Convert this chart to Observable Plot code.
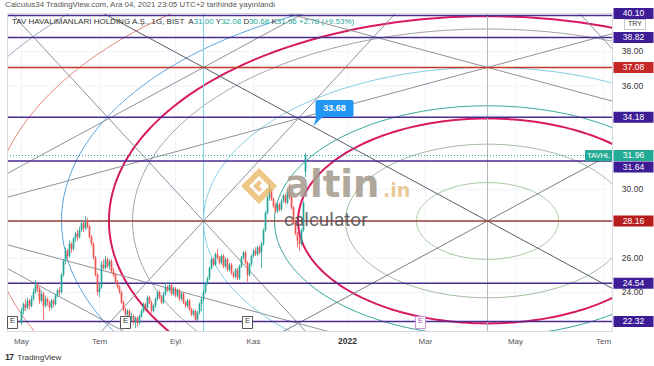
<!DOCTYPE html>
<html><head><meta charset="utf-8">
<script src="https://cdn.jsdelivr.net/npm/d3@7"></script>
<script src="https://cdn.jsdelivr.net/npm/@observablehq/plot@0.6"></script>
<style>
body{margin:0;background:#fff;}
#wrap{position:relative;width:654px;height:366px;overflow:hidden;font-family:"Liberation Sans",Arial,sans-serif;}
#wrap svg{position:absolute;left:0;top:0;}
.ov{position:absolute;white-space:nowrap;pointer-events:none;}
</style></head><body><div id="wrap"></div>
<script>
// ---------- DATA ----------
// daily candles [open, high, low, close], TAVHL, 3 May 2021 .. 3 Dec 2021
const candles = [
[22.2,23.1,22.1,22.9],[22.9,23.4,22.7,23.3],[23.3,23.6,22.9,23.1],[23.1,23.7,23.0,23.5],[23.5,23.6,23.0,23.2],
[23.2,23.8,23.1,23.6],[23.6,24.2,23.5,24.0],[24.0,24.7,23.9,24.4],[24.4,24.6,24.0,24.2],[24.2,24.3,23.3,23.5],
[23.5,24.1,23.4,23.9],[23.9,24.0,22.4,23.2],[23.2,23.8,23.1,23.6],[23.6,23.7,23.2,23.4],[23.4,23.5,22.9,23.1],
[23.1,23.6,23.0,23.5],[23.5,23.6,23.1,23.3],[23.3,23.9,23.2,23.8],[23.8,24.2,23.7,24.1],[24.1,24.3,23.8,24.0],
[24.0,25.1,23.9,25.0],[25.0,25.9,24.9,25.8],[25.8,26.6,25.6,26.4],[26.4,26.5,25.9,26.1],[26.1,27.0,26.0,26.8],
[26.8,26.9,26.3,26.5],[26.5,27.2,26.4,27.1],[27.1,27.5,26.9,27.4],[27.4,27.6,27.0,27.2],[27.2,27.8,27.1,27.6],
[27.6,28.2,27.5,28.0],[28.0,28.1,27.5,27.7],[27.7,28.4,27.6,28.1],[28.1,28.3,27.7,27.8],[27.8,27.9,27.1,27.2],
[27.2,27.3,26.7,26.8],[26.8,26.9,25.9,26.0],[26.0,26.1,24.9,25.0],[25.0,25.1,23.8,24.0],[24.0,24.5,23.7,24.3],
[24.3,25.8,24.2,25.6],[25.6,25.9,25.3,25.4],[25.4,26.1,25.3,25.9],[25.9,26.0,25.4,25.5],[25.5,25.9,25.3,25.8],
[25.8,25.9,25.1,25.2],[25.2,25.4,24.9,25.0],[25.0,25.1,24.5,24.6],[24.6,24.7,24.2,24.3],[24.3,24.4,23.9,24.0],
[24.0,24.1,23.3,23.4],[23.4,23.5,22.9,23.0],[23.0,23.1,22.6,22.7],[22.7,23.0,22.5,22.9],[22.9,23.0,22.4,22.5],
[22.5,22.8,22.3,22.6],[22.6,22.7,22.1,22.3],[22.3,22.6,21.9,22.5],[22.5,22.6,22.0,22.2],[22.2,22.7,22.1,22.6],
[22.6,23.0,22.5,22.9],[22.9,23.4,22.8,23.3],[23.3,23.4,22.9,23.1],[23.1,23.8,23.0,23.7],[23.7,23.8,23.3,23.4],
[23.4,23.5,22.8,22.9],[22.9,23.3,22.8,23.2],[23.2,23.7,23.1,23.6],[23.6,24.1,23.5,24.0],[24.0,24.1,23.6,23.7],
[23.7,23.8,23.3,23.4],[23.4,24.0,23.3,23.9],[23.9,24.5,23.8,24.3],[24.3,24.4,24.0,24.1],[24.1,24.6,24.0,24.4],
[24.4,24.5,23.8,23.9],[23.9,24.3,23.8,24.2],[24.2,24.3,23.7,23.8],[23.8,24.2,23.7,24.1],[24.1,24.2,23.5,23.6],
[23.6,24.0,23.5,23.9],[23.9,24.0,23.3,23.4],[23.4,23.5,23.1,23.2],[23.2,23.6,23.1,23.5],[23.5,23.6,22.9,23.0],
[23.0,23.1,22.6,22.7],[22.7,23.0,22.6,22.9],[22.9,23.0,22.3,22.4],[22.4,22.9,22.3,22.8],[22.8,23.4,22.7,23.3],
[23.3,23.7,22.9,23.6],[23.6,24.1,23.5,24.0],[24.0,24.6,23.9,24.5],[24.5,24.9,24.4,24.8],[24.8,25.5,24.7,25.4],
[25.4,26.0,25.3,25.9],[25.9,26.0,25.5,25.6],[25.6,26.3,25.5,26.2],[26.2,26.5,25.9,26.0],[26.0,26.1,25.6,25.7],
[25.7,26.2,25.6,26.1],[26.1,26.2,25.4,25.5],[25.5,26.0,25.4,25.9],[25.9,26.0,25.2,25.3],[25.3,25.7,25.2,25.6],
[25.6,25.7,25.0,25.1],[25.1,25.2,24.8,24.9],[24.9,25.4,24.8,25.3],[25.3,25.4,24.7,24.8],[24.8,25.6,24.7,25.5],
[25.5,26.1,25.4,26.0],[26.0,26.4,25.9,26.3],[26.3,26.4,25.6,25.7],[25.7,25.8,24.6,25.0],[25.0,25.7,24.9,25.6],
[25.6,26.2,25.5,26.1],[26.1,26.5,26.0,26.4],[26.4,26.6,26.1,26.2],[26.2,26.7,26.1,26.6],[26.6,26.7,26.2,26.3],
[26.3,26.9,25.4,26.8],[26.8,27.7,26.7,27.6],[27.6,28.7,27.5,28.6],[28.6,29.6,28.5,29.5],[29.5,30.3,29.3,29.9],
[29.9,30.0,29.3,29.4],[29.4,29.5,28.9,29.0],[29.0,29.2,28.6,28.7],[28.7,29.2,28.6,29.1],[29.1,29.2,28.7,28.8],
[28.8,29.4,28.7,29.3],[29.3,29.7,29.2,29.6],[29.6,29.7,29.1,29.2],[29.2,29.9,29.1,29.8],[29.8,30.3,29.4,29.5],
[29.5,29.6,28.8,28.9],[28.9,29.0,27.9,28.0],[28.0,28.1,27.3,27.4],[27.4,27.5,26.6,27.0],[27.0,27.2,26.4,26.8],
[26.8,27.7,26.7,27.6],[27.6,29.3,27.5,29.18],[31.00,32.08,30.68,31.96]
];
const levelPrices = [40.10, 38.82, 37.08, 34.18, 31.64, 28.16, 24.54, 22.32];
const lastPrice = 31.96;
const notePrice = 33.68, noteBar = 146;
const yTicks = [24, 26, 30, 36, 38];
const xTickBars = [0, 39, 77, 116, 163, 202, 247, 291];
const xTickLabels = ["May", "Tem", "Eyl", "Kas", "2022", "Mar", "May", "Tem"];
const earningsBars = [-4.5, 52, 113, 199.5];
// Fib circle drawing: center (bar, price) and unit radii
const fibCenterBar = 233, fibCenterPrice = 28.16;
const fibUnitBars = 142, fibUnitPrice = 8.92;
const fibLevels = [0.25, 0.5, 0.667, 0.75, 1, 1.25, 1.333, 1.5, 1.75, 2];
// trend line anchors [bar1, price1, bar2, price2]
const trendLines = [
  [91, 37.08, 233, 28.16],
  [91, 19.24, 233, 28.16],
  [-51, 28.16, 91, 37.08],
  [-51, 28.16, 91, 19.24],
  [233, 37.08, 517, 28.16],
  [-51, 28.16, 233, 37.08],
  [-51, 28.16, 233, 19.24],
  [233, 19.24, 517, 28.16],
  [91, 28.16, 162, 19.24],
  [91, 28.16, 162, 37.08],
  [375, 28.16, 304, 37.08]
];
const verticalBars = [91, 233];

// ---------- STYLES ----------
const UP = "#26a69a", DOWN = "#ef5350";
const levelLineColors = ["#4b2a91","#4b2a91","#c0392b","#4b2a91","#4b2a91","#9a3b3b","#4b2a91","#4b2a91"];
const levelBoxColors  = ["#3e1c96","#3e1c96","#c62828","#3e1c96","#3e1c96","#b71c1c","#3e1c96","#3e1c96"];
const levelLabelShift = [-2, 0, 0, 0, 6, 0, 0, 0]; // px, label collision avoidance
const fibColors = ["#a9c9a0","#a3bb9e","#d81b60","#3aa89b","#86cde3","#a3a5ad","#d81b60","#5ea6dc","#e8877c","#9aa3b5"];
const fibWidths = [1,1,2,1,1,1,2,1,1,1];
const trendColors = ["#5a5d66","#7b7e87","#8f929a","#8f929a","#8f929a","#8f929a","#8f929a","#8f929a","#8f929a","#8f929a","#8f929a"];

// ---------- BUILD ----------
const ellipses = fibLevels.map(k => d3.range(0, 361, 2).map(a => ({
  i: fibCenterBar + k * fibUnitBars * Math.cos(a * Math.PI / 180),
  p: fibCenterPrice + k * fibUnitPrice * Math.sin(a * Math.PI / 180)
})));
const extLines = trendLines.map(([a, b, c, d]) => ({
  x1: a + (c - a) * -4, y1: b + (d - b) * -4,
  x2: a + (c - a) * 5,  y2: b + (d - b) * 5
}));
const boxSym = (w, h, oy = 0) => ({draw(ctx) { ctx.rect(-w / 2, -h / 2 + oy, w, h); }});
const noteSym = {draw(ctx) {
  const l = 2, r = 40, t = -26, b = -9, rr = 2;
  ctx.moveTo(l + rr, t); ctx.lineTo(r - rr, t); ctx.quadraticCurveTo(r, t, r, t + rr);
  ctx.lineTo(r, b - rr); ctx.quadraticCurveTo(r, b, r - rr, b);
  ctx.lineTo(9, b); ctx.lineTo(0, 0); ctx.lineTo(3, b);
  ctx.lineTo(l + rr, b); ctx.quadraticCurveTo(l, b, l, b - rr);
  ctx.lineTo(l, t + rr); ctx.quadraticCurveTo(l, t, l + rr, t); ctx.closePath();
}};

const levelIdx = levelPrices.map((d, i) => i);
const marks = [
  Plot.ruleY(yTicks, {y: d => d, stroke: "#f0f3fa"}),
  Plot.ruleX(xTickBars, {x: d => d, stroke: "#f0f3fa"}),
  ...ellipses.map((pts, k) => Plot.line(pts, {x: "i", y: "p", stroke: fibColors[k], strokeWidth: fibWidths[k], clip: true})),
  Plot.link(extLines, {x1: "x1", y1: "y1", x2: "x2", y2: "y2", stroke: (d, i) => trendColors[i], strokeWidth: 1, clip: true}),
  Plot.ruleX(verticalBars, {x: d => d, stroke: (d, i) => i === 0 ? "#7fd0e4" : "#b3b6bd", strokeWidth: 1}),
  Plot.ruleY(levelPrices, {y: d => d, stroke: (d, i) => levelLineColors[i], strokeWidth: 1.5}),
  Plot.ruleY([lastPrice], {y: d => d, stroke: UP, strokeDasharray: "1,2", strokeWidth: 1}),
  Plot.ruleX(candles, {x: (d, i) => i, y1: d => d[2], y2: d => d[1], stroke: d => d[3] >= d[0] ? UP : DOWN, strokeWidth: 0.8}),
  Plot.ruleX(candles, {x: (d, i) => i, y1: d => d[0], y2: d => d[3], stroke: d => d[3] >= d[0] ? UP : DOWN, strokeWidth: 1.7}),
  Plot.frame({stroke: "#d6d9e0"}),
  Plot.text(yTicks, {y: d => d, text: d => d.toFixed(2), frameAnchor: "right", textAnchor: "middle", dx: 20, fontSize: 8.5, fill: "#333"}),
  ...levelIdx.map(i => Plot.dot([levelPrices[i]], {y: d => d, frameAnchor: "right", dx: 21, dy: levelLabelShift[i], r: 5, symbol: boxSym(40, 11), fill: levelBoxColors[i], stroke: null})),
  ...levelIdx.map(i => Plot.text([levelPrices[i]], {y: d => d, text: d => d.toFixed(2), frameAnchor: "right", textAnchor: "middle", dx: 21, dy: levelLabelShift[i], fontSize: 8.5, fill: "white"})),
  Plot.dot([lastPrice], {y: d => d, frameAnchor: "right", dx: 21, r: 5, symbol: boxSym(40, 11), fill: "#22ab94", stroke: null}),
  Plot.text([lastPrice], {y: d => d, text: d => d.toFixed(2), frameAnchor: "right", textAnchor: "middle", dx: 21, fontSize: 8.5, fill: "white"}),
  Plot.dot([lastPrice], {y: d => d, frameAnchor: "right", dx: -14, r: 5, symbol: boxSym(27, 11), fill: "#22ab94", stroke: null}),
  Plot.text([lastPrice], {y: d => d, text: () => "TAVHL", frameAnchor: "right", textAnchor: "middle", dx: -14, fontSize: 7.5, fill: "white"}),
  Plot.dot([notePrice], {x: () => noteBar, y: d => d, r: 5, symbol: noteSym, fill: "#2196f3", stroke: null}),
  Plot.text([notePrice], {x: () => noteBar, y: d => d, text: d => d.toFixed(2), dx: 21, dy: -17.5, fontSize: 9, fontWeight: "bold", fill: "white"}),
  Plot.dot(earningsBars, {x: d => d, frameAnchor: "bottom", dy: -9, r: 5, symbol: boxSym(10, 12), fill: "white", stroke: (d, i) => i === 3 ? "#ce93d8" : "#555", strokeWidth: 1}),
  Plot.text(earningsBars, {x: d => d, frameAnchor: "bottom", dy: -9, text: () => "E", fontSize: 7.5, fill: (d, i) => i === 3 ? "#ab47bc" : "#333"}),
  Plot.text(xTickBars.filter((d, i) => xTickLabels[i] !== "2022"), {x: d => d, text: d => xTickLabels[xTickBars.indexOf(d)], frameAnchor: "bottom", dy: 12, fontSize: 8, fill: "#555"}),
  Plot.text(xTickBars.filter((d, i) => xTickLabels[i] === "2022"), {x: d => d, text: () => "2022", frameAnchor: "bottom", dy: 12, fontSize: 8.5, fontWeight: "bold", fill: "#333"})
];

const chart = Plot.plot({
  width: 654, height: 366,
  marginLeft: 7, marginRight: 42, marginTop: 13, marginBottom: 35,
  x: {domain: [-7, 295.5], axis: null},
  y: {domain: [21.74, 40.21], axis: null},
  color: {type: "identity"},
  style: {fontFamily: "'Liberation Sans', Arial, sans-serif", background: "white"},
  marks
});
const wrap = document.getElementById("wrap");
wrap.appendChild(chart);

const ov = (html, css) => { const d = document.createElement("div"); d.className = "ov"; d.style.cssText = css; d.innerHTML = html; wrap.appendChild(d); };
// watermark
ov(`<svg width="38" height="38" viewBox="0 0 38 38"><path d="M19 1 L37 19 L19 37 L1 19 Z M19 9 L9 19 L19 29 L29 19 Z" fill="#e8b45e" fill-rule="evenodd" opacity="0.75"/><path d="M19 13 L13 19 L19 25 L22 22 L19 19 L22 16 Z" fill="#e8b45e" opacity="0.75"/></svg>`, "left:240px;top:167px;");
ov("altin", "left:285px;top:166px;font:bold 37px 'DejaVu Sans';line-height:37px;color:#a39a8b;opacity:0.85;");
ov(".in", "left:383px;top:181px;font:bold 19px 'DejaVu Sans';line-height:19px;color:#e3b36a;opacity:0.7;");
ov("calculator", "left:284px;top:210px;font:19px Roboto;line-height:19px;color:#4d4d4d;opacity:0.85;");
// header
ov("Calculus34 TradingView.com, Ara 04, 2021 23:05 UTC+2 tarihinde yayınlandı", "left:5px;top:0px;font:7.9px 'Liberation Sans';color:#555;");
ov(`TAV HAVALIMANLARI HOLDİNG A.Ş., 1G, BIST&nbsp; A<span style="color:#26a69a">31.00</span> Y<span style="color:#26a69a">32.08</span> D<span style="color:#26a69a">30.68</span> K<span style="color:#26a69a">31.96</span> <span style="color:#26a69a">+2.78 (+9.53%)</span>`, "left:12px;top:17px;font:8px 'Liberation Sans';color:#333;");
ov("TRY", "left:624px;top:19px;width:20px;height:9px;line-height:9px;text-align:center;font:7px 'Liberation Sans';color:#333;background:#fff;border:1px solid #c5c8cf;");
// footer
ov(`<b style="font-size:9px;letter-spacing:-1px">17</b>&nbsp; TradingView`, "left:5px;top:352px;font:8px 'Liberation Sans';color:#333;");
</script></body></html>
